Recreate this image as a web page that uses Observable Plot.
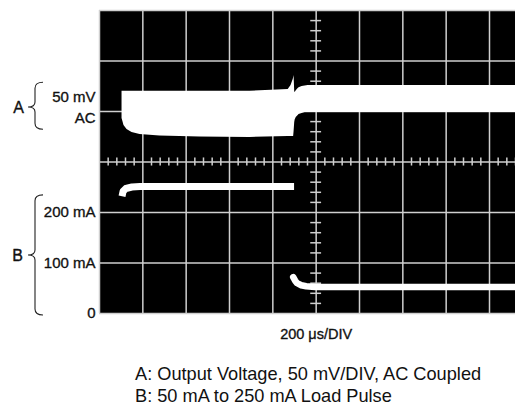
<!DOCTYPE html>
<html><head><meta charset="utf-8">
<script src="https://cdn.jsdelivr.net/npm/d3@7"></script>
<script src="https://cdn.jsdelivr.net/npm/@observablehq/plot@0.6"></script>
<style>
body{margin:0;background:#fff;font-family:"Liberation Sans",Arial,sans-serif;}
#wrap{position:relative;width:515px;height:408px;overflow:hidden}
#cap{position:absolute;left:135px;top:363px;font-size:18.2px;line-height:22px;color:#111;white-space:nowrap}
</style></head><body>
<div id="wrap"><div id="chart"></div><div id="cap">A: Output Voltage, 50 mV/DIV, AC Coupled<br>B: 50 mA to 250 mA Load Pulse</div></div>
<script>
// Trace A: output voltage (mV, AC coupled), drawn as a thick noisy band (bottom/top envelope)
const aTime     = [-896, -892, -887, -873, -850, -813, -721, -536, -305, -129, -116, -106, -104, -102, -99, -97, -92, -83, -79, -65, -51, -37, 920];
const aTopMv    = [20, 20, 20, 20, 20, 20, 20, 20, 20, 21.8, 25.7, 31.7, 33.5, 35.6, 19.5, 18.8, 20.5, 22.8, 23.5, 24.8, 25.3, 25.7, 25.7];
const aBottomMv = [-6.9, -10, -13.9, -17.8, -20.8, -22.8, -24.3, -25.2, -25.7, -24.8, -24.8, -24.8, -24.8, -20, -10.9, -8.5, -6, -4, -3, -2, -1, -1, -1];
// Trace B: load current (mA)
const bHighTime = [-896, -891, -878, -850, -813, -102];
const bHighMa   = [232, 242, 247.5, 250.5, 251.5, 251.5];
const bLowTime  = [-106, -97, -88, -69, -46, -5, 920];
const bLowMa    = [72, 65, 60, 56, 54, 52.5, 52.5];
// Labels
const aLabels = ["50 mV", "AC"];
const bTickLabels = ["200 mA", "100 mA", "0"];
const bTickValues = [200, 100, 0];
const xLabel = "200 \u03bcs/DIV";

const usPerDiv = 200, mvPerDiv = 50, maPerDiv = 100, aZeroDiv = 4;
const gridX = d3.range(-1000, 801, usPerDiv);
const gridY = d3.range(0, 7, 1);
const minorY = d3.range(0, 30).map(i => i / 5).filter(v => v % 1 !== 0);
const minorX = d3.range(-1000, 921, usPerDiv / 5).filter(v => v % usPerDiv !== 0);

const A = aTime.map((t, i) => ({t, lo: aZeroDiv + aBottomMv[i] / mvPerDiv, hi: aZeroDiv + aTopMv[i] / mvPerDiv}));
const BH = bHighTime.map((t, i) => ({t, v: bHighMa[i] / maPerDiv}));
const BL = bLowTime.map((t, i) => ({t, v: bLowMa[i] / maPerDiv}));

const grid = "#cfcfcf";
const ink = "#111";
const bold = {fill: ink, stroke: ink, strokeWidth: 0.35};
const plot = Plot.plot({
  width: 515, height: 350,
  marginLeft: 99, marginRight: 0, marginTop: 10, marginBottom: 37,
  x: {domain: [-1000, 920], axis: null},
  y: {domain: [0, 6], axis: null},
  style: {fontFamily: "'Liberation Sans', Arial, sans-serif", fontSize: "15px", background: "white", overflow: "visible"},
  marks: [
    Plot.frame({fill: "black", stroke: "none"}),
    Plot.ruleX(gridX, {stroke: grid, strokeWidth: 1.5}),
    Plot.ruleY(gridY, {stroke: grid, strokeWidth: 1.5}),
    Plot.ruleY(minorY, {y: d => d, x1: () => -25, x2: () => 25, stroke: grid, strokeWidth: 1.5}),
    Plot.ruleX(minorX, {x: d => d, y1: () => 3 - 0.08, y2: () => 3 + 0.08, stroke: grid, strokeWidth: 1.5}),
    Plot.areaY(A, {x: "t", y1: "lo", y2: "hi", fill: "white"}),
    Plot.line(BH, {x: "t", y: "v", stroke: "white", strokeWidth: 7, strokeLinecap: "butt"}),
    Plot.line(BL, {x: "t", y: "v", stroke: "white", strokeWidth: 6.5, strokeLinecap: "round"}),
    Plot.text([xLabel], {x: () => 0, frameAnchor: "bottom", dy: 25, fontSize: 14.5, ...bold}),
    Plot.text([aLabels[0]], {y: () => aZeroDiv, frameAnchor: "left", dx: -4, dy: -14, textAnchor: "end", ...bold}),
    Plot.text([aLabels[1]], {y: () => aZeroDiv, frameAnchor: "left", dx: -4, dy: 7, textAnchor: "end", ...bold}),
    Plot.text(bTickLabels, {y: (d, i) => bTickValues[i] / maPerDiv, frameAnchor: "left", dx: -4, textAnchor: "end", ...bold}),
    Plot.text(["A"], {y: () => aZeroDiv, frameAnchor: "left", dx: -81, dy: -4, textAnchor: "middle", fontSize: 16, ...bold}),
    Plot.text(["B"], {y: () => 115 / maPerDiv, frameAnchor: "left", dx: -82, textAnchor: "middle", fontSize: 16, ...bold})
  ]
});
document.getElementById("chart").appendChild(plot);

// braces, positioned through the plot's y scale
const ys = plot.scale("y");
function brace(x, y0, y1, ym) {
  return `M${x + 8},${y0} Q${x},${y0} ${x},${y0 + 6} L${x},${ym - 5} Q${x},${ym} ${x - 7},${ym} Q${x},${ym} ${x},${ym + 5} L${x},${y1 - 6} Q${x},${y1} ${x + 8},${y1}`;
}
const svg = d3.select(plot);
const yA0 = ys.apply(aZeroDiv + 28.5 / mvPerDiv), yA1 = ys.apply(aZeroDiv - 18 / mvPerDiv), yAm = ys.apply(aZeroDiv + 4 / mvPerDiv);
const yB0 = ys.apply(234 / maPerDiv), yB1 = ys.apply(-4 / maPerDiv), yBm = ys.apply(115 / maPerDiv);
svg.append("path").attr("d", brace(35, yA0, yA1, yAm)).attr("fill", "none").attr("stroke", "#222").attr("stroke-width", 1.1);
svg.append("path").attr("d", brace(35, yB0, yB1, yBm)).attr("fill", "none").attr("stroke", "#222").attr("stroke-width", 1.1);
</script>
</body></html>
